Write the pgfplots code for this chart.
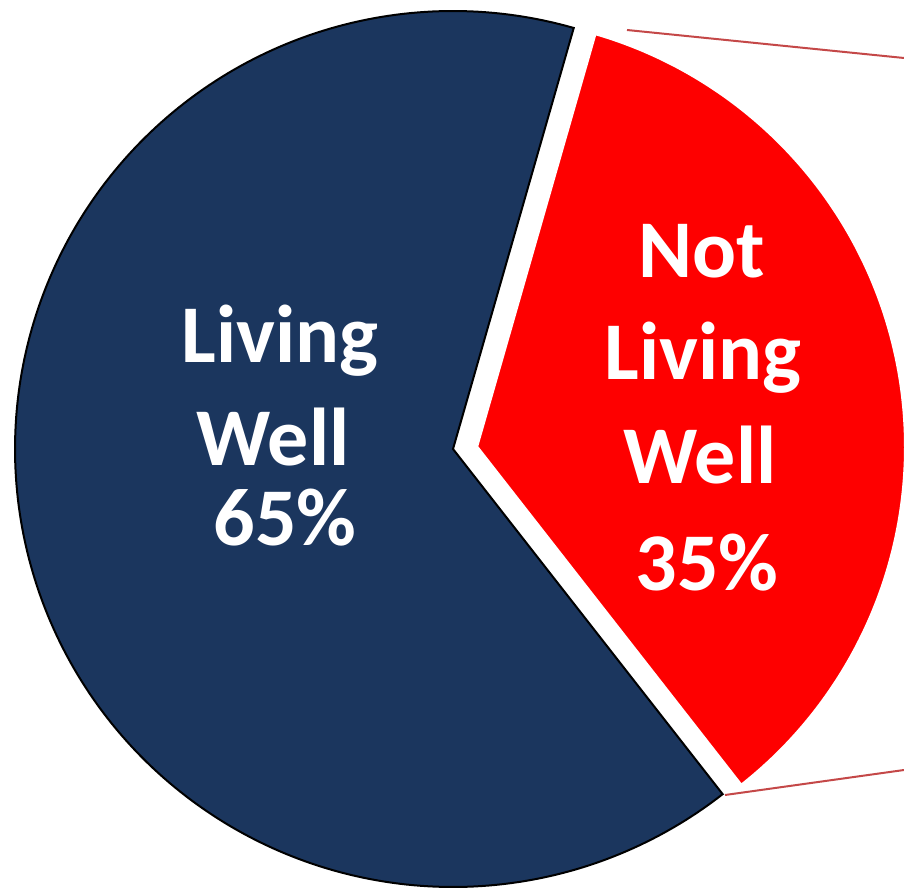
\documentclass[border=0pt]{standalone}
\usepackage{pgfplots}
\pgfplotsset{compat=1.18}
\usepackage{pgfplotstable}
\usepackage{fontspec}
\setmainfont{Carlito}
\definecolor{navy}{RGB}{27,54,94}
\definecolor{pred}{RGB}{254,0,0}
\definecolor{conn}{RGB}{196,72,72}
\pgfplotstableread{
label value
Living 65
NotLiving 35
}\piedata
\begin{document}%
\begin{tikzpicture}
\pgfplotstablegetelem{0}{value}\of\piedata\let\valA\pgfplotsretval
\pgfplotstablegetelem{1}{value}\of\piedata\let\valB\pgfplotsretval
\pgfmathsetmacro{\aStart}{74}
\pgfmathsetmacro{\aMid}{\aStart+3.6*\valA}
\pgfmathsetmacro{\aEnd}{\aMid+3.6*\valB}
\begin{axis}[
  x=0.5pt, y=0.5pt,
  xmin=0, xmax=904, ymin=0, ymax=890,
  axis line style={draw=none},
  xtick=\empty, ytick=\empty,
  clip=true,
]
\coordinate (bl) at (rel axis cs:0,0);
\coordinate (tr) at (rel axis cs:1,1);
% blue wedge (Living Well)
\addplot[fill=navy, draw=black, line width=1pt, domain=\aStart:\aMid, samples=240, variable=\t]
  ({453+438*cos(\t)},{441+438*sin(\t)}) -- (axis cs:453,441) -- cycle;
% red wedge (Not Living Well), exploded
\addplot[fill=pred, draw=white, line width=3pt, line join=miter, domain=\aMid:\aEnd, samples=200, variable=\t]
  ({475+432*cos(\t)},{443+432*sin(\t)}) -- (axis cs:475,443) -- cycle;
% connector lines
\addplot[conn, line width=1pt] coordinates {(627,860) (904,832)};
\addplot[conn, line width=1pt] coordinates {(725,95) (904,120)};
% labels
\begin{scope}[every node/.style={text=white, font=\fontsize{41}{41}\selectfont\bfseries, anchor=base, inner sep=0pt}]
\node at (axis cs:280,527) {Living};
\node at (axis cs:273,425) {Well};
\node at (axis cs:285,345) {65\%};
\node at (axis cs:702,612) {Not};
\node at (axis cs:703,510) {Living};
\node at (axis cs:700,407) {Well};
\node at (axis cs:707,300) {35\%};
\end{scope}
\end{axis}
\pgfresetboundingbox
\useasboundingbox (bl) rectangle (tr);
\end{tikzpicture}%
\end{document}
